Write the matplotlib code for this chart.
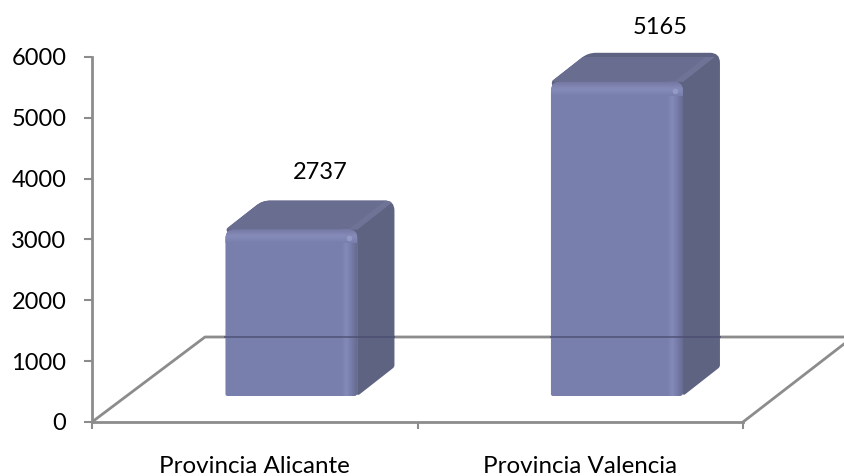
import numpy as np
import matplotlib
matplotlib.use('Agg')
import matplotlib.pyplot as plt
from matplotlib.path import Path
from matplotlib.patches import PathPatch, Polygon
from matplotlib.colors import LinearSegmentedColormap

categories = ['Provincia Alicante', 'Provincia Valencia']
values = [2737, 5165]
yticks = [0, 1000, 2000, 3000, 4000, 5000, 6000]

plt.rcParams['font.family'] = ['Lato', 'DejaVu Sans']

W, H = 844, 476
GREY = '#8c8c8c'
fig = plt.figure(figsize=(W / 100, H / 100), dpi=100)
ax = fig.add_axes([92 / W, 1 - 422 / H, (743 - 92) / W, (422 - 57) / H])
ax.set_xlim(0, 2)
ax.set_ylim(0, 6000)

# one px in data units
px_x = 2 / 651
px_y = 6000 / 365
floor = 26 * px_y
bar_w = 132 * px_x
dx = 37 * px_x
dy = 29 * px_y
label_dx = [65, 80]
label_dy = [28, 25]


def rounded(pts, r):
    # closed polygon with rounded corners, r in px per point
    verts, codes = [], []
    n = len(pts)
    for i in range(n):
        p = np.array(pts[i])
        a = np.array(pts[i - 1])
        b = np.array(pts[(i + 1) % n])
        ra = (a - p) * [1 / px_x, 1 / px_y]
        rb = (b - p) * [1 / px_x, 1 / px_y]
        s = p + (a - p) * min(r[i] / max(np.hypot(*ra), 1e-6), 0.5)
        e = p + (b - p) * min(r[i] / max(np.hypot(*rb), 1e-6), 0.5)
        verts += [s, p, e]
        codes += [Path.LINETO, Path.CURVE3, Path.CURVE3]
    codes[0] = Path.MOVETO
    verts.append(verts[0])
    codes.append(Path.CLOSEPOLY)
    return Path(verts, codes)


def shade(extent, colors, path, horizontal=True, z=3):
    cmap = LinearSegmentedColormap.from_list('s', colors)
    g = np.linspace(0, 1, 64)
    g = g[None, :] if horizontal else g[:, None]
    im = ax.imshow(g, extent=extent, cmap=cmap, aspect='auto', origin='lower',
                   zorder=z, interpolation='bilinear')
    im.set_clip_path(PathPatch(path, transform=ax.transData))


# floor, right edge runs off the picture
back_l = (113 * px_x, 85 * px_y)
back_r = (761 * px_x, 85 * px_y)
ax.plot([0, back_l[0], back_r[0], 2], [0, back_l[1], back_r[1], 0], color=GREY,
        lw=2, zorder=1, clip_on=False)

for i, v in enumerate(values):
    x0 = i + 0.5 - 0.09
    x1 = x0 + bar_w
    y0 = floor
    y1 = floor + v

    # outline of the back part in the side colour, top face clipped to it
    back = rounded([(x0, y1), (x0 + dx, y1 + dy), (x1 + dx, y1 + dy), (x1 + dx, y0 + dy), (x1, y0)],
                   [3, 8, 10, 2, 3])
    ax.add_patch(PathPatch(back, fc='#5f6382', ec='none', zorder=2, clip_on=False))
    top = Polygon([(x0, y1), (x0 + dx, y1 + dy), (x1 + dx, y1 + dy), (x1, y1)], fc='#696d8f', ec='none', zorder=2)
    ax.add_patch(top)
    top.set_clip_path(PathPatch(back, transform=ax.transData))
    # lighter band along the rounded edge between top and side
    band = Polygon([(x1 - 9 * px_x, y1), (x1 + dx - 9 * px_x, y1 + dy), (x1 + dx, y1 + dy), (x1, y1)],
                   fc='#6f7497', ec='none', zorder=2)
    ax.add_patch(band)
    band.set_clip_path(PathPatch(back, transform=ax.transData))

    front = rounded([(x0, y0), (x0, y1), (x1, y1), (x1, y0)], [2, 9, 9, 4])
    ax.add_patch(PathPatch(front, fc='#797fad', ec='none', zorder=3, clip_on=False))

    # highlights on the front face
    shade([x1 - 16 * px_x, x1, y0, y1], ['#797fad', '#848ab8', '#767ba8', '#666b90'], front)
    shade([x0, x1, y1 - 14 * px_y, y1], ['#797fad', '#868cba', '#7478a2'], front, horizontal=False)
    ax.plot([x1 - 8 * px_x], [y1 - 9 * px_y], 'o', color='#9ea3cc', ms=4, mew=0, zorder=4, alpha=0.7)

    # back floor line seen through the bar
    ax.plot([x0, x1 + dx], [back_l[1], back_l[1]], color='#4a4d70', lw=1.4, alpha=0.7, zorder=5)

    ax.text(i + 0.5 + label_dx[i] * px_x, y1 + dy + label_dy[i] * px_y, str(v), ha='center', va='center',
            fontsize=17, color='black', zorder=6, clip_on=False)

for s in ['top', 'right']:
    ax.spines[s].set_visible(False)
for s in ['left', 'bottom']:
    ax.spines[s].set_color(GREY)
    ax.spines[s].set_linewidth(2)

ax.set_yticks(yticks)
ax.set_xticks([0, 1, 2])
ax.set_xticklabels([])
ax.set_xticks([0.5, 1.5], labels=categories, minor=True)
ax.tick_params(axis='x', which='major', length=5, width=1.5, color=GREY)
ax.tick_params(axis='x', which='minor', length=0, labelsize=17.4, pad=24.5, labelcolor='black')
ax.tick_params(axis='y', length=6, width=1.5, color=GREY, labelsize=17, pad=12.5, labelcolor='black')

fig.savefig('out.png', dpi=100)
